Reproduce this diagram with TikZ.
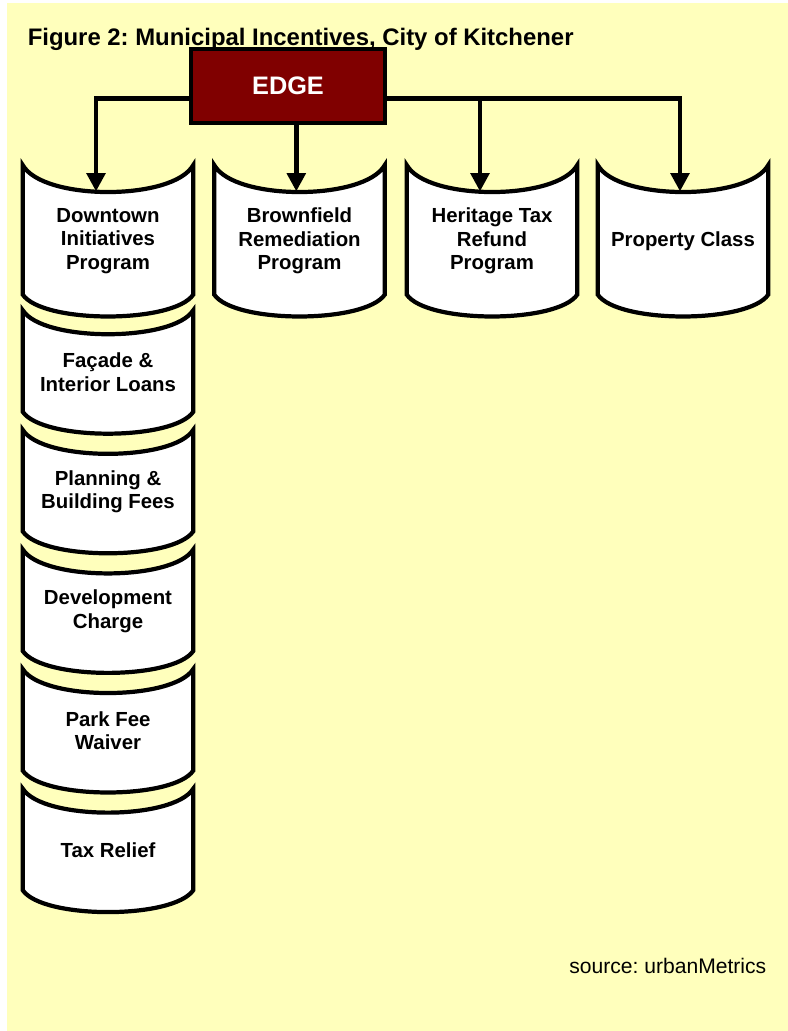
\documentclass[tikz,border=0pt]{standalone}
\usepackage{fontspec}
\setmainfont{Liberation Sans}
\usetikzlibrary{arrows.meta,positioning}
\frenchspacing

\definecolor{pageyellow}{RGB}{255,255,188}
\definecolor{edgered}{RGB}{128,0,0}

\pgfdeclarelayer{background}
\pgfdeclarelayer{boxes}
\pgfsetlayers{background,boxes,main}

\tikzset{
  rowbox/.style={minimum width=4.25cm,minimum height=3.775cm,inner sep=0pt,align=center,
    font=\bfseries\fontsize{14.5}{16.8}\selectfont},
  colbox/.style={rowbox,minimum height=3.075cm},
  edgebox/.style={draw=black,line width=2.8pt,fill=edgered,text=white,minimum width=4.85cm,
    minimum height=1.85cm,font=\bfseries\fontsize{18}{20}\selectfont},
  tapeline/.style={draw=black,line width=3pt,fill=white},
  conn/.style={black,line width=3.3pt,-{Triangle[length=13pt,width=13pt]}}
}

% tape shaped outline round a node: name, top sag
\newcommand{\tapeshape}[2]{%
  \begin{pgfonlayer}{boxes}
    \draw[tapeline] (#1.north west) .. controls +(0.5,-#2) and +(-0.5,-#2) .. (#1.north east)
      -- ([yshift=0.55cm]#1.south east) .. controls +(-0.5,-0.73) and +(0.5,-0.73) .. ([yshift=0.55cm]#1.south west)
      -- cycle;
  \end{pgfonlayer}}

\begin{document}
\begin{tikzpicture}
\useasboundingbox (0,0) rectangle (19.7,-25.775);
\begin{pgfonlayer}{background}
\fill[pageyellow] (0.175,-0.075) rectangle (19.7,-25.775);
\end{pgfonlayer}

\node[anchor=base west,font=\bfseries\fontsize{17}{19}\selectfont] (title) at (0.57,-1.125)
  {Figure 2: Municipal Incentives, City of Kitchener};
\node[edgebox] (edge) at (7.2,-2.15) {EDGE};

% top row
\node[rowbox] (dip) at (2.7,-6.02) {Downtown\\Initiatives\\Program};
\node[rowbox] (brf) at (7.4875,-6.02) {Brownfield\\Remediation\\Program};
\node[rowbox] (htr) at (12.3,-6.02) {Heritage Tax\\Refund\\Program};
\node[rowbox] (prc) at (17.075,-6.02) {Property Class};
\tapeshape{dip}{0.9}
\tapeshape{brf}{0.9}
\tapeshape{htr}{0.9}
\tapeshape{prc}{0.9}

% downtown column
\node[colbox] (fil) at (2.7,-9.3) {Façade \&\\Interior Loans};
\node[colbox] (pbf) at (2.7,-12.29) {Planning \&\\Building Fees};
\node[colbox] (dvc) at (2.7,-15.28) {Development\\Charge};
\node[colbox] (pfw) at (2.7,-18.27) {Park Fee\\Waiver};
\node[colbox] (txr) at (2.7,-21.26) {Tax Relief};
\tapeshape{fil}{0.8}
\tapeshape{pbf}{0.8}
\tapeshape{dvc}{0.8}
\tapeshape{pfw}{0.8}
\tapeshape{txr}{0.8}

\coordinate (bus) at (0,-2.4625);
\draw[conn] (edge.west |- bus) -| ([xshift=-0.3cm,yshift=-0.66cm]dip.north);
\draw[conn] ([xshift=-0.08cm]brf.north |- edge.south) -- ([xshift=-0.08cm,yshift=-0.66cm]brf.north);
\draw[conn] (edge.east |- bus) -| ([xshift=-0.3cm,yshift=-0.66cm]htr.north);
\draw[conn] (edge.east |- bus) -| ([xshift=-0.075cm,yshift=-0.66cm]prc.north);

\node[anchor=base east,font=\fontsize{15}{17}\selectfont] (src) at (19.28,-24.33) {source: urbanMetrics};
\end{tikzpicture}
\end{document}
